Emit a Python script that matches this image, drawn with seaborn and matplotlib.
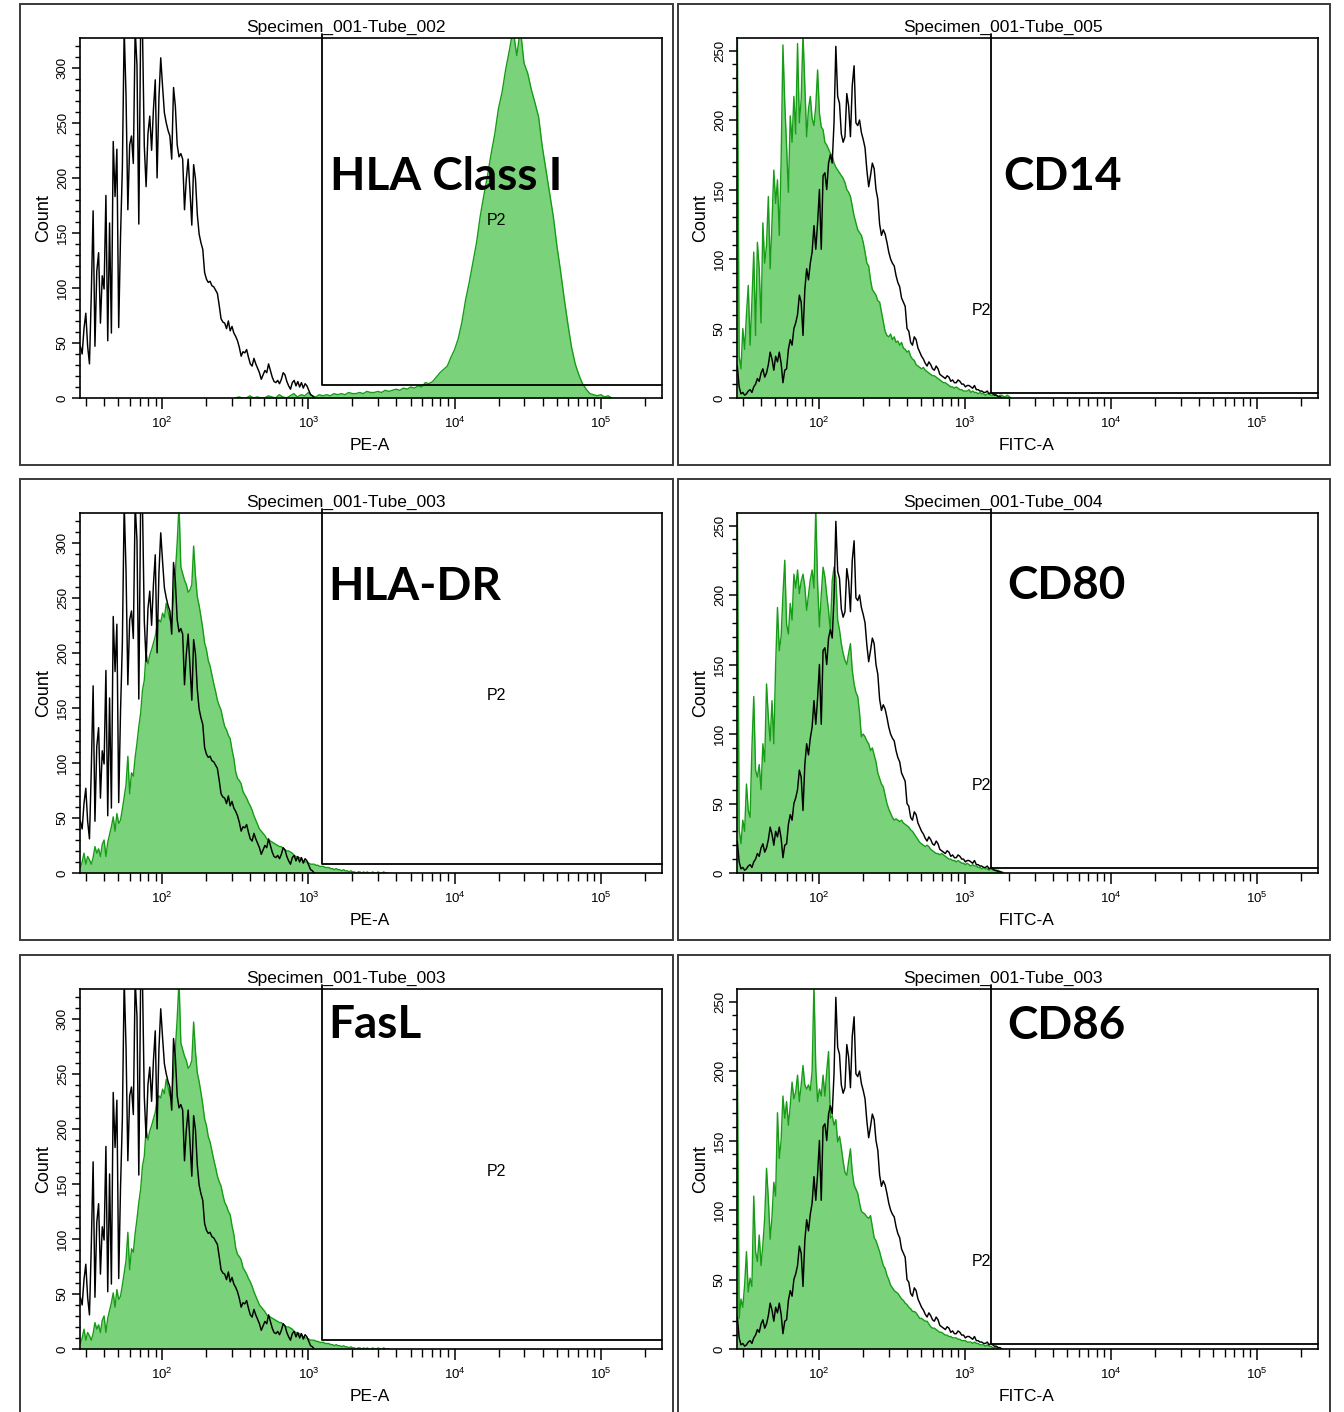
import numpy as np
import pandas as pd
import matplotlib
matplotlib.use("Agg")
import matplotlib.pyplot as plt
from matplotlib.patches import Rectangle
from matplotlib.ticker import LogLocator, LogFormatterMathtext, MultipleLocator, NullFormatter
import seaborn as sns

sns.set_style("white")
plt.rcParams['font.family'] = ['Liberation Sans', 'DejaVu Sans']
plt.rcParams['mathtext.fontset'] = 'custom'
plt.rcParams['mathtext.rm'] = 'Liberation Sans'
for key in ['text.color', 'axes.labelcolor', 'xtick.color', 'ytick.color']:
    plt.rcParams[key] = 'black'

# %%
# each histogram: log10 of its first channel, channel width (decades), counts per channel
X_RANGE = (27.4, 262144)
FINE = 0.0125
COARSE = 0.025

# isotype control (black outline), PE-A tubes
pe_ctrl_start = 1.44
pe_ctrl = [47, 40, 63, 77, 47, 31, 94, 170, 47, 115,
           132, 68, 111, 99, 184, 52, 159, 59, 233, 183,
           226, 64, 147, 209, 335, 275, 171, 230, 238, 213,
           335, 302, 158, 335, 335, 229, 192, 240, 256, 225,
           262, 289, 200, 272, 309, 283, 259, 250, 243, 238,
           217, 282, 265, 230, 219, 222, 217, 171, 199, 217,
           188, 157, 212, 199, 167, 149, 141, 135, 114, 108,
           105, 106, 102, 101, 98, 95, 84, 72, 69, 68,
           63, 70, 61, 65, 59, 56, 52, 46, 38, 42,
           41, 44, 37, 31, 29, 36, 31, 27, 23, 17,
           21, 25, 23, 31, 25, 19, 15, 14, 16, 13,
           17, 23, 21, 15, 11, 8, 14, 16, 11, 15,
           10, 14, 9, 13, 11, 7, 3, 2, 0]

# isotype control (black outline), FITC-A tubes
fitc_ctrl_start = 1.44
fitc_ctrl = [23, 8, 3, 4, 2, 3, 5, 6, 4, 8,
             10, 14, 12, 18, 21, 15, 18, 24, 33, 28,
             20, 30, 26, 33, 25, 11, 20, 21, 35, 42,
             38, 50, 54, 60, 74, 69, 45, 78, 93, 85,
             97, 105, 124, 107, 126, 150, 107, 160, 162, 150,
             169, 175, 169, 198, 253, 217, 212, 190, 184, 188,
             219, 210, 188, 225, 239, 198, 196, 200, 191, 186,
             180, 164, 152, 160, 169, 165, 150, 143, 125, 117,
             121, 118, 112, 105, 100, 97, 95, 88, 83, 80,
             72, 69, 66, 50, 48, 40, 38, 44, 42, 36,
             33, 30, 28, 25, 23, 26, 24, 21, 20, 23,
             21, 17, 16, 15, 14, 16, 15, 12, 13, 11,
             11, 13, 12, 10, 10, 8, 9, 9, 8, 7,
             9, 6, 6, 5, 5, 4, 4, 5, 3, 4,
             3, 2, 2, 1, 1, 0]

# stained samples (green, filled)
hla1_start = 2.5
hla1 = [0, 1, 0, 0, 2, 0, 1, 0, 0, 2, 1, 0, 3, 1, 0, 2, 4, 1, 3, 2, 5, 2, 1, 3,
        2, 3, 2, 4, 3, 4, 3, 5, 4, 4,
        5, 4, 6, 5, 5, 6, 5, 7, 6, 7,
        8, 7, 9, 8, 10, 9, 11, 10, 14, 13,
        15, 19, 23, 26, 29, 37, 44, 54, 69, 89,
        105, 123, 141, 165, 184, 202, 222, 240, 263, 278,
        299, 316, 335, 311, 335, 304, 295, 280, 268, 255,
        228, 207, 186, 165, 138, 115, 90, 67, 46, 31,
        21, 13, 8, 4, 3, 2, 3, 1, 2, 0]

hladr_start = 1.44
hladr = [5, 10, 18, 8, 15, 12, 8, 14, 24, 18,
         22, 15, 26, 30, 15, 28, 35, 42, 51, 38,
         54, 45, 48, 58, 69, 80, 106, 72, 91, 88,
         105, 118, 133, 145, 166, 175, 200, 190, 198, 203,
         209, 215, 226, 230, 228, 236, 232, 245, 238, 230,
         227, 250, 273, 300, 335, 278, 272, 266, 262, 255,
         257, 262, 297, 270, 251, 243, 233, 222, 209, 203,
         193, 188, 180, 172, 165, 157, 152, 148, 140, 133,
         130, 125, 122, 112, 104, 92, 86, 84, 81, 74,
         71, 68, 64, 61, 57, 52, 48, 44, 40, 38,
         36, 34, 31, 30, 29, 28, 27, 26, 25, 24,
         24, 22, 21, 20, 20, 19, 18, 16, 15, 14,
         14, 13, 11, 10, 10, 9, 8, 8, 8, 7,
         7, 6, 6, 6, 5, 5, 5, 4, 4, 3,
         4, 3, 3, 2, 3, 2, 2, 1, 2, 1,
         1, 0, 1, 1, 0, 1, 0, 1, 0, 0,
         1, 0, 0, 1, 0, 0, 1, 0, 0, 0]

fasl_start = hladr_start
fasl = hladr  # same tube as HLA-DR

cd14_start = 1.44
cd14 = [270, 30, 21, 50, 35, 60, 81, 38, 70, 105,
        45, 112, 93, 54, 126, 97, 110, 145, 93, 126,
        164, 140, 157, 117, 170, 254, 212, 181, 148, 203,
        184, 217, 190, 255, 198, 215, 262, 224, 188, 208,
        217, 201, 196, 210, 236, 205, 195, 193, 184, 182,
        179, 176, 174, 169, 166, 164, 162, 160, 158, 155,
        150, 148, 145, 138, 131, 126, 121, 119, 117, 112,
        105, 97, 95, 85, 78, 76, 74, 70, 69, 62,
        55, 48, 45, 44, 46, 42, 44, 40, 41, 38,
        40, 36, 35, 33, 34, 30, 28, 27, 24, 23,
        22, 21, 22, 20, 19, 18, 17, 16, 16, 15,
        14, 13, 12, 11, 11, 10, 9, 8, 8, 7,
        8, 7, 6, 6, 5, 5, 5, 6, 4, 5,
        4, 4, 3, 4, 3, 3, 2, 3, 3, 2,
        2, 3, 2, 1, 2, 2, 1, 1, 2, 1, 0]

cd80_start = 1.44
cd80 = [270, 31, 21, 38, 30, 64, 45, 40, 90, 127,
        74, 69, 78, 60, 93, 80, 136, 112, 95, 124,
        93, 150, 191, 160, 170, 200, 225, 179, 172, 194,
        182, 215, 205, 218, 201, 210, 215, 206, 189, 200,
        211, 218, 205, 262, 208, 177, 200, 220, 213, 200,
        189, 174, 210, 220, 213, 182, 175, 165, 158, 153,
        150, 158, 165, 146, 136, 130, 127, 115, 98, 100,
        98, 95, 93, 88, 90, 85, 80, 72, 68, 64,
        62, 56, 50, 46, 43, 40, 38, 39, 38, 37,
        38, 36, 35, 34, 33, 31, 30, 28, 26, 24,
        22, 21, 20, 19, 20, 19, 17, 16, 15, 14,
        14, 13, 14, 13, 12, 11, 10, 10, 9, 9,
        8, 9, 8, 7, 7, 6, 7, 6, 5, 6,
        5, 5, 4, 4, 3, 4, 3, 3, 2, 3,
        2, 2, 1, 2, 1, 1, 0]

cd86_start = 1.44
cd86 = [213, 22, 36, 30, 46, 70, 41, 51, 45, 110,
        70, 63, 82, 60, 75, 94, 130, 108, 79, 95,
        120, 110, 170, 137, 150, 182, 166, 178, 161, 175,
        192, 180, 185, 197, 178, 190, 204, 190, 187, 190,
        186, 200, 262, 202, 178, 187, 182, 197, 182, 200,
        214, 166, 168, 161, 165, 149, 153, 145, 135, 127,
        125, 135, 144, 127, 118, 115, 112, 105, 99, 98,
        97, 95, 94, 96, 88, 80, 78, 74, 70, 65,
        60, 58, 53, 50, 46, 44, 42, 41, 40, 38,
        36, 35, 33, 32, 30, 29, 27, 27, 26, 24,
        22, 22, 21, 20, 20, 18, 16, 15, 15, 14,
        13, 12, 12, 11, 10, 10, 9, 9, 8, 8,
        8, 7, 7, 6, 6, 6, 5, 5, 5, 4,
        5, 4, 4, 3, 3, 3, 2, 3, 2, 2,
        1, 1, 1, 0]

# panel texts
tubes = ['Specimen_001-Tube_002', 'Specimen_001-Tube_005',
         'Specimen_001-Tube_003', 'Specimen_001-Tube_004',
         'Specimen_001-Tube_003', 'Specimen_001-Tube_003']
channels = ['PE-A', 'FITC-A', 'PE-A', 'FITC-A', 'PE-A', 'FITC-A']
markers = ['HLA Class I', 'CD14', 'HLA-DR', 'CD80', 'FasL', 'CD86']

# P2 gate: lower-left corner (fluorescence, count)
gates = [(1247, 12), (1510, 3.6), (1247, 8.5), (1510, 3.6), (1247, 8.5), (1510, 3.6)]

FILL = '#7ad27a'
EDGE = '#169c16'


def channel_frame(start, step, counts):
    x = 10 ** (start + step * np.arange(len(counts)))
    return pd.DataFrame({'x': x, 'count': counts})


panels = [
    ((hla1_start, COARSE, hla1), (pe_ctrl_start, FINE, pe_ctrl)),
    ((cd14_start, FINE, cd14), (fitc_ctrl_start, FINE, fitc_ctrl)),
    ((hladr_start, FINE, hladr), (pe_ctrl_start, FINE, pe_ctrl)),
    ((cd80_start, FINE, cd80), (fitc_ctrl_start, FINE, fitc_ctrl)),
    ((fasl_start, FINE, fasl), (pe_ctrl_start, FINE, pe_ctrl)),
    ((cd86_start, FINE, cd86), (fitc_ctrl_start, FINE, fitc_ctrl)),
]

# %%
fig = plt.figure(figsize=(13.44, 14.12), dpi=100)
W, H = 1344, 1412
ax_left = [80, 737]
ax_width = [582, 581]
ax_bottom = [398, 873, 1349]

# frames around each panel
frame_x = [(20, 673), (678, 1330)]
frame_y = [(4, 465), (479, 940), (955, 1418)]
for (fx0, fx1) in frame_x:
    for (fy0, fy1) in frame_y:
        fig.add_artist(Rectangle((fx0 / W, 1 - fy1 / H), (fx1 - fx0) / W, (fy1 - fy0) / H,
                                 transform=fig.transFigure, fill=False,
                                 ec='#3a3a3a', lw=1.4))

for k in range(6):
    row, col = divmod(k, 2)
    ax = fig.add_axes([ax_left[col] / W, 1 - ax_bottom[row] / H,
                       ax_width[col] / W, 360 / H])
    ax.set_xscale('log')
    green = channel_frame(*panels[k][0])
    ctrl = channel_frame(*panels[k][1])

    ax.fill_between(green['x'], green['count'], color=FILL, lw=0, zorder=1)
    sns.lineplot(data=green, x='x', y='count', color=EDGE, lw=1.0,
                 estimator=None, ax=ax, zorder=2)
    sns.lineplot(data=ctrl, x='x', y='count', color='black', lw=1.05,
                 estimator=None, ax=ax, zorder=3)

    ymax = 327 if col == 0 else 259
    ax.set_xlim(*X_RANGE)
    ax.set_ylim(0, ymax)

    # P2 gate
    gx, gy = gates[k]
    ax.plot([gx, gx, X_RANGE[1]], [ymax * 1.012, gy, gy], color='black', lw=1.3,
            zorder=4, clip_on=False)
    if col == 0:
        ax.text(0.715, 0.494, 'P2', transform=ax.transAxes, ha='center', va='center',
                fontsize=11.5)
    else:
        ax.text(0.437, 0.242, 'P2', transform=ax.transAxes, ha='right', va='center',
                fontsize=11.5)

    # axes styling
    for s in ax.spines.values():
        s.set_visible(True)
        s.set_color('black')
        s.set_linewidth(1.2)
    ax.xaxis.set_major_locator(LogLocator(base=10, numticks=12))
    ax.xaxis.set_minor_locator(LogLocator(base=10, subs=np.arange(2, 10), numticks=40))
    ax.xaxis.set_major_formatter(LogFormatterMathtext())
    ax.xaxis.set_minor_formatter(NullFormatter())
    ax.yaxis.set_major_locator(MultipleLocator(50))
    ax.yaxis.set_minor_locator(MultipleLocator(10))
    ax.tick_params(which='major', direction='out', length=6, width=1.1,
                   labelsize=9.5, color='black', pad=2)
    ax.tick_params(which='minor', direction='out', length=3.5, width=1.0, color='black')
    ax.tick_params(axis='x', which='major', length=8, pad=5, labelsize=9.5)
    ax.tick_params(axis='x', which='minor', length=5.5)
    ax.tick_params(axis='x', which='both', bottom=True, top=False)
    ax.tick_params(axis='y', which='both', left=True, right=False)
    for lab in ax.get_yticklabels():
        lab.set_rotation(90)
        lab.set_va('center')
    ax.set_xlabel('')
    ax.set_ylabel('')

    ax.text(0.457, 1.03, tubes[k], transform=ax.transAxes, ha='center', va='center',
            fontsize=12.5)
    ax.text(0.498, -0.133, channels[k], transform=ax.transAxes, ha='center', va='center',
            fontsize=12.5)
    ax.text(-0.062, 0.5, 'Count', transform=ax.transAxes, ha='center', va='center',
            rotation=90, fontsize=13)

# big marker labels
label_pos = [(0.43, 0.578), (0.458, 0.578), (0.426, 0.758),
             (0.465, 0.761), (0.426, 0.864), (0.465, 0.861)]
for k, ax in enumerate(fig.axes):
    lx, ly = label_pos[k]
    ax.text(lx, ly, markers[k], transform=ax.transAxes, ha='left', va='baseline',
            fontsize=33, fontweight='bold', color='black',
            family=['Lato', 'DejaVu Sans'], zorder=6)

fig.savefig('out.png', dpi=100)
